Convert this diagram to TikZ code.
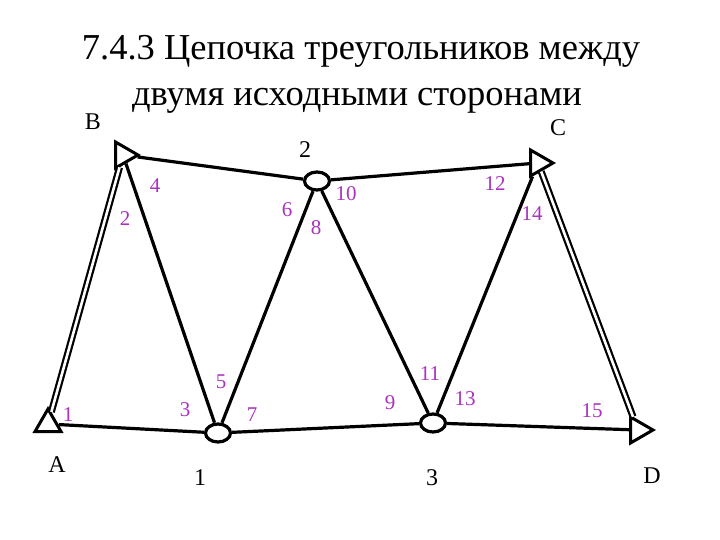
\documentclass[tikz,border=0pt]{standalone}
\usepackage{fontspec}
\setmainfont{Liberation Serif}
\usetikzlibrary{shapes.geometric,positioning}
\definecolor{numcol}{RGB}{170,50,190}
\begin{document}
\begin{tikzpicture}[x=1pt, y=-1pt, line width=3.2pt]
            \tikzset{vert/.style={ellipse, draw, minimum width=25pt, minimum height=18pt, inner sep=0pt},
              endtri/.style={regular polygon, regular polygon sides=3, draw, minimum size=30pt, inner sep=0pt, line width=3pt},
              lab/.style={font=\fontsize{24}{26}\selectfont},
              num/.style={text=numcol, font=\fontsize{21}{23}\selectfont},
              title/.style={font=\fontsize{36.5}{40}\selectfont, anchor=base},
              rod/.style={double, double distance=2.6pt, line width=2.2pt}}
            \useasboundingbox (0,0) rectangle (720,540);
            % title
            \node[title] (t1) at (361,60) {7.4.3 Цепочка треугольников между};
            \node[title] (t2) at (357,106) {двумя исходными сторонами};
            % nodes
            \node[endtri] (A) at (48,424) {};
            \node[endtri, regular polygon rotate=-90] (B) at (123,155) {};
            \node[endtri, regular polygon rotate=-90] (C) at (538,163) {};
            \node[endtri, regular polygon rotate=-90] (D) at (638,430) {};
            \node[vert] (v1) at (218,433) {};
            \node[vert] (v2) at (317,181) {};
            \node[vert] (v3) at (433,423) {};
            % labels
            \node[lab] at (57,465) {A};
            \node[lab] at (93,122) {B};
            \node[lab] at (558,128) {C};
            \node[lab] at (652,476) {D};
            \node[lab] at (200,478) {1};
            \node[lab] at (305,150) {2};
            \node[lab] at (432,478) {3};
            % bars
            \draw[rod] (A) -- (B);
            \draw[rod] (C) -- (D);
            \draw (A) -- (v1);
            \draw (v1) -- (v3);
            \draw (v3) -- (D);
            \draw (B) -- (v2);
            \draw (v2) -- (C);
            \draw (B) -- (v1);
            \draw (v2) -- (v1);
            \draw (v2) -- (v3);
            \draw (v3) -- (C);
            % bar numbers
            \node[num] at (68,415) {1};
            \node[num] at (125,219) {2};
            \node[num] at (185,410) {3};
            \node[num] at (155,186) {4};
            \node[num] at (221,382) {5};
            \node[num] at (287,210) {6};
            \node[num] at (252,415) {7};
            \node[num] at (316,228) {8};
            \node[num] at (390,403) {9};
            \node[num] at (346,194) {10};
            \node[num] at (430,374) {11};
            \node[num] at (495,184) {12};
            \node[num] at (465,399) {13};
            \node[num] at (532,214) {14};
            \node[num] at (592,411) {15};
\end{tikzpicture}
\end{document}
